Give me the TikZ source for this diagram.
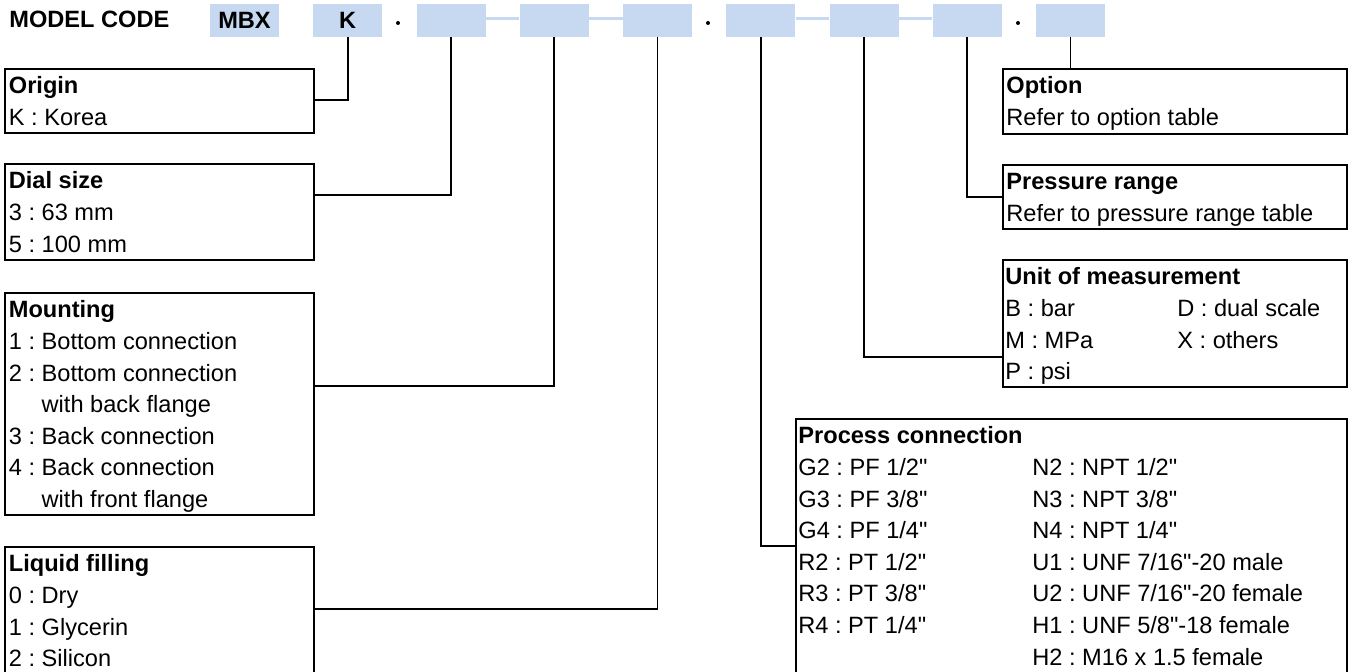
\documentclass[tikz,border=0pt]{standalone}
\usepackage{fontspec}
\setmainfont{Liberation Sans}[Ligatures=TeXOff]
\usepackage{array}
\usetikzlibrary{positioning}
\definecolor{codeblue}{RGB}{198,217,240}
\newcommand\gaugefont{\fontsize{11.8}{15.8}\selectfont\frenchspacing}

\begin{document}
\begin{tikzpicture}[x=0.5pt,y=-0.5pt,
  every node/.style={font=\gaugefont},
  codebox/.style={fill=codeblue,minimum width=34.5pt,minimum height=16.5pt,inner sep=0pt,font=\gaugefont\bfseries},
  codelink/.style={codeblue,line width=1.5pt},
  codedot/.style={circle,fill=black,inner sep=0pt,minimum size=2pt},
  infobox/.style={draw=black,line width=0.8pt,anchor=north west,inner sep=0pt,minimum width=172pt},
  infotext/.style={anchor=base west,inner sep=0pt},
  lead/.style={black,line width=0.8pt}]
\clip (0,0) rectangle (1349,672);

% model code row
\node[anchor=base west,inner sep=0pt,font=\gaugefont\bfseries] (title) at (9,28) {MODEL CODE};
\node[codebox] (mbx) at (244.5,20.5) {MBX};
\node[codebox] (k) at (347.75,20.5) {K};
\node[codedot] (dot1) at (398,23) {};
\node[codebox] (c3) at (451,20.5) {};
\node[codebox] (c4) at (554.25,20.5) {};
\node[codebox] (c5) at (657.5,20.5) {};
\node[codedot] (dot2) at (708,23) {};
\node[codebox] (c6) at (760.75,20.5) {};
\node[codebox] (c7) at (864,20.5) {};
\node[codebox] (c8) at (967.25,20.5) {};
\node[codedot] (dot3) at (1018,23) {};
\node[codebox] (c9) at (1070.5,20.5) {};
\draw[codelink] ([yshift=0.75pt]c3.east) -- ([yshift=0.75pt]c4.west);
\draw[codelink] ([yshift=0.75pt]c4.east) -- ([yshift=0.75pt]c5.west);
\draw[codelink] ([yshift=0.75pt]c6.east) -- ([yshift=0.75pt]c7.west);
\draw[codelink] ([yshift=0.75pt]c7.east) -- ([yshift=0.75pt]c8.west);

% left boxes
\node[infobox,minimum width=154.5pt,minimum height=32pt] (origin) at (4,68) {};
\node[infotext] (originT) at ([shift={(4.5,26)}]origin.north west) {\begin{tabular}[t]{@{}l@{}}\textbf{Origin}\\K : Korea\end{tabular}};
\node[infobox,minimum width=154.5pt,minimum height=48pt] (dial) at (4,163) {};
\node[infotext] (dialT) at ([shift={(4.5,26)}]dial.north west) {\begin{tabular}[t]{@{}l@{}}\textbf{Dial size}\\3 : 63 mm\\5 : 100 mm\end{tabular}};
\node[infobox,minimum width=154.5pt,minimum height=111pt] (mounting) at (4,292) {};
\node[infotext] (mountingT) at ([shift={(4.5,26)}]mounting.north west) {\begin{tabular}[t]{@{}l@{}}\textbf{Mounting}\\1 : Bottom connection\\2 : Bottom connection\\\phantom{2 : }with back flange\\3 : Back connection\\4 : Back connection\\\phantom{4 : }with front flange\end{tabular}};
\node[infobox,minimum width=154.5pt,minimum height=70pt] (liquid) at (4,546) {};
\node[infotext] (liquidT) at ([shift={(4.5,26)}]liquid.north west) {\begin{tabular}[t]{@{}l@{}}\textbf{Liquid filling}\\0 : Dry\\1 : Glycerin\\2 : Silicon\end{tabular}};

% right boxes
\node[infobox,minimum height=32.5pt] (option) at (1002,68) {};
\node[infotext] (optionT) at ([shift={(4,26)}]option.north west) {\begin{tabular}[t]{@{}l@{}}\textbf{Option}\\Refer to option table\end{tabular}};
\node[infobox,minimum height=32pt] (pressure) at (1002,164) {};
\node[infotext] (pressureT) at ([shift={(4,26)}]pressure.north west) {\begin{tabular}[t]{@{}l@{}}\textbf{Pressure range}\\Refer to pressure range table\end{tabular}};
\node[infobox,minimum height=63.5pt] (unit) at (1002,259) {};
\node[infotext] (unitT) at ([shift={(3,26)}]unit.north west) {\begin{tabular}[t]{@{}p{86pt}@{}l@{}}\multicolumn{2}{@{}l@{}}{\textbf{Unit of measurement}}\\B : bar & D : dual scale\\M : MPa & X : others\\P : psi & \end{tabular}};
\node[infobox,minimum width=275.5pt,minimum height=135pt] (process) at (795,418) {};
\node[infotext] (processT) at ([shift={(3,26)}]process.north west) {\begin{tabular}[t]{@{}p{117pt}@{}l@{}}\multicolumn{2}{@{}l@{}}{\textbf{Process connection}}\\G2 : PF 1/2" & N2 : NPT 1/2"\\G3 : PF 3/8" & N3 : NPT 3/8"\\G4 : PF 1/4" & N4 : NPT 1/4"\\R2 : PT 1/2" & U1 : UNF 7/16"-20 male\\R3 : PT 3/8" & U2 : UNF 7/16"-20 female\\R4 : PT 1/4" & H1 : UNF 5/8"-18 female\\ & H2 : M16 x 1.5 female\end{tabular}};

% leaders
\draw[lead] (k.south) |- ([shift={(0,32)}]origin.north east);
\draw[lead] (c3.south) |- ([shift={(0,32)}]dial.north east);
\draw[lead] (c4.south) |- ([shift={(0,94)}]mounting.north east);
\draw[lead] (c5.south) |- ([shift={(0,63)}]liquid.north east);
\draw[lead] (c6.south) |- ([shift={(0,128)}]process.north west);
\draw[lead] (c7.south) |- ([shift={(0,98)}]unit.north west);
\draw[lead] (c8.south) |- ([shift={(0,33)}]pressure.north west);
\draw[lead] (c9.south) -- (c9.south |- option.north);
\end{tikzpicture}
\end{document}
